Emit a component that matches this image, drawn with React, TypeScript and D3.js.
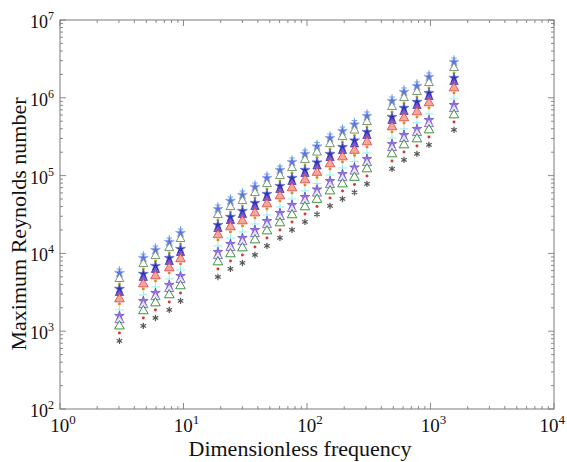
import React from 'react';
import * as d3 from 'd3';

// Dimensionless frequency (x) for each column of points
const freq = [3.03, 4.73, 5.93, 7.67, 9.46, 19.0, 24.0, 30.0, 37.9, 47.4, 60.4, 75.6, 96.3, 120.5, 153.6, 193.8, 242.4, 306, 488, 610, 777, 972, 1550];

// Maximum Reynolds number, one array per marker series (top to bottom in each column)
const reA = [6300, 9820, 12440, 15770, 20590, 41850, 53100, 63340, 80210, 104700, 132800, 168300, 213300, 266200, 342000, 420800, 510500, 656400, 1024000, 1337000, 1596000, 2081000, 3245000];
const reB = [5600, 8730, 11060, 14020, 18300, 37200, 47200, 56300, 71300, 93100, 118000, 149600, 189600, 236600, 304000, 374000, 453800, 583500, 909900, 1188000, 1419000, 1850000, 2884000];
const reC = [4690, 7310, 9260, 11730, 15320, 31140, 39510, 47120, 59680, 77920, 98770, 125200, 158700, 198000, 254400, 313000, 379800, 488400, 761600, 994400, 1188000, 1548000, 2414000];
const reD = [4040, 6300, 7990, 10120, 13210, 26860, 34080, 40650, 51480, 67220, 85200, 108000, 136900, 170800, 219500, 270000, 327600, 421300, 657000, 857700, 1025000, 1336000, 2082000];
const reE = [3490, 5440, 6890, 8730, 11400, 23180, 29410, 35070, 44420, 58000, 73510, 93200, 118100, 147400, 189400, 233000, 282700, 363500, 566900, 740100, 884000, 1153000, 1797000];
const reF = [3100, 4830, 6120, 7750, 10120, 20570, 26100, 31130, 39430, 51480, 65250, 82730, 104800, 130800, 168100, 206800, 251000, 322700, 503200, 657000, 784700, 1023000, 1595000];
const reG = [2590, 4040, 5120, 6490, 8470, 17220, 21850, 26070, 33010, 43110, 54630, 69260, 87780, 109500, 140800, 173200, 210100, 270200, 421300, 550000, 657000, 856600, 1335000];
const reH = [2240, 3490, 4420, 5610, 7320, 14880, 18880, 22520, 28520, 37240, 47200, 59840, 75840, 94640, 121600, 149600, 181500, 233400, 364000, 475200, 567600, 740000, 1154000];
const reI = [1880, 2920, 3710, 4700, 6130, 12460, 15810, 18860, 23890, 31190, 39530, 50120, 63520, 79260, 101800, 125300, 152000, 195500, 304800, 398000, 475400, 619800, 966100];
const reJ = [1570, 2440, 3100, 3930, 5120, 10420, 13220, 15760, 19960, 26070, 33040, 41890, 53090, 66250, 85120, 104700, 127100, 163400, 254800, 332600, 397300, 518000, 807500];
const reK = [1390, 2170, 2750, 3490, 4560, 9260, 11750, 14020, 17750, 23180, 29380, 37250, 47210, 58910, 75700, 93130, 113000, 145300, 226600, 295800, 353300, 460700, 718100];
const reL = [1160, 1820, 2300, 2920, 3810, 7740, 9820, 11710, 14830, 19360, 24540, 31120, 39440, 49210, 63230, 77790, 94390, 121400, 189300, 247100, 295200, 384800, 599900];
const reM = [946, 1480, 1870, 2370, 3090, 6290, 7980, 9510, 12050, 15730, 19940, 25280, 32040, 39990, 51380, 63210, 76690, 98610, 153800, 200800, 239800, 312700, 487400];
const reN = [750, 1170, 1480, 1880, 2450, 4980, 6320, 7540, 9550, 12480, 15810, 20050, 25410, 31700, 40740, 50120, 60810, 78190, 121900, 159200, 190100, 247900, 386500];

const xTickExps = [0, 1, 2, 3, 4];
const yTickExps = [2, 3, 4, 5, 6, 7];

const seriesData = [reA, reB, reC, reD, reE, reF, reG, reH, reI, reJ, reK, reL, reM, reN];

const seriesStyle = [
  { type: d3.symbolPlus, size: 12, fill: 'none', stroke: '#5aa0e6', sw: 1 },
  { type: d3.symbolStar, size: 30, fill: '#4a68dc', stroke: '#8c9cf0', sw: 0.8 },
  { type: d3.symbolTriangle, size: 34, fill: '#ffffff', stroke: '#6a8a6a', sw: 1 },
  { type: d3.symbolCircle, size: 7, fill: '#b8a800', stroke: 'none', sw: 0 },
  { type: d3.symbolStar, size: 30, fill: '#1c2aa8', stroke: '#5060d0', sw: 0.8 },
  { type: d3.symbolTriangle, size: 30, fill: '#6a4ad0', stroke: '#3020a0', sw: 0.8 },
  { type: d3.symbolTriangle, size: 40, fill: '#f2a090', stroke: '#e04848', sw: 1 },
  { type: d3.symbolCircle, size: 7, fill: '#e07a10', stroke: 'none', sw: 0 },
  { type: d3.symbolPlus, size: 28, fill: '#30d8d8', stroke: '#70e8e8', sw: 0.8 },
  { type: d3.symbolStar, size: 28, fill: '#9070e0', stroke: '#6040c0', sw: 0.8 },
  { type: d3.symbolTriangle, size: 36, fill: '#ece4ff', stroke: '#8060d0', sw: 1 },
  { type: d3.symbolTriangle, size: 40, fill: '#ffffff', stroke: '#2a8a2a', sw: 1 },
  { type: d3.symbolCircle, size: 7, fill: '#d02020', stroke: 'none', sw: 0 },
  { type: d3.symbolAsterisk, size: 28, fill: 'none', stroke: '#444444', sw: 1.2 },
];

const W = 567, H = 462;
const L = 60, R = 554, T = 20, B = 409;

export default function App() {
  const x = d3.scaleLog().domain([1, 1e4]).range([L, R]);
  const y = d3.scaleLog().domain([1e2, 1e7]).range([B, T]);
  const isMajor = (v: number) => Math.abs(Math.log10(v) - Math.round(Math.log10(v))) < 1e-9;
  const xt = x.ticks();
  const yt = y.ticks();
  const tickColor = '#8a8a8a';
  const font = '"Liberation Serif", "Times New Roman", serif';

  return (
    <svg width={W} height={H} style={{ position: 'absolute', left: 0, top: 0, background: '#fff' }}>
      <rect x={0} y={0} width={W} height={H} fill="#fff" />
      {xt.map((v, i) => {
        const len = isMajor(v) ? 6 : 3;
        const px = x(v);
        return (
          <g key={'xt' + i} stroke={tickColor} strokeWidth={1}>
            <line x1={px} x2={px} y1={B} y2={B - len} />
            <line x1={px} x2={px} y1={T} y2={T + len} />
          </g>
        );
      })}
      {yt.map((v, i) => {
        const len = isMajor(v) ? 6 : 3;
        const py = y(v);
        return (
          <g key={'yt' + i} stroke={tickColor} strokeWidth={1}>
            <line x1={L} x2={L + len} y1={py} y2={py} />
            <line x1={R} x2={R - len} y1={py} y2={py} />
          </g>
        );
      })}
      <rect x={L} y={T} width={R - L} height={B - T} fill="none" stroke="#7a7a7a" strokeWidth={1} />

      {seriesData.map((arr, si) => {
        const st = seriesStyle[si];
        const d = d3.symbol().type(st.type).size(st.size)() as string;
        return (
          <g key={'s' + si}>
            {arr.map((v, i) => (
              <path
                key={i}
                d={d}
                transform={`translate(${x(freq[i])},${y(v)})`}
                fill={st.fill}
                stroke={st.stroke}
                strokeWidth={st.sw}
                opacity={0.9}
              />
            ))}
          </g>
        );
      })}

      {xTickExps.map((e) => {
        const last = e === xTickExps[xTickExps.length - 1];
        return (
          <text
            key={'xl' + e}
            x={last ? W - 2 : x(Math.pow(10, e)) + 3}
            y={432}
            fontFamily={font}
            fontSize={19}
            textAnchor={last ? 'end' : 'middle'}
            fill="#111"
          >
            10<tspan dy={-8} fontSize={13}>{e}</tspan>
          </text>
        );
      })}
      {yTickExps.map((e) => (
        <text key={'yl' + e} x={54} y={y(Math.pow(10, e)) + 8} fontFamily={font} fontSize={18} textAnchor="end" fill="#111">
          10<tspan dy={-8} fontSize={12}>{e}</tspan>
        </text>
      ))}

      <text x={300} y={456} fontFamily={font} fontSize={22} textAnchor="middle" fill="#111">Dimensionless frequency</text>
      <text transform={`translate(26,224) rotate(-90)`} fontFamily={font} fontSize={22} textAnchor="middle" fill="#111">Maximum Reynolds number</text>
    </svg>
  );
}
